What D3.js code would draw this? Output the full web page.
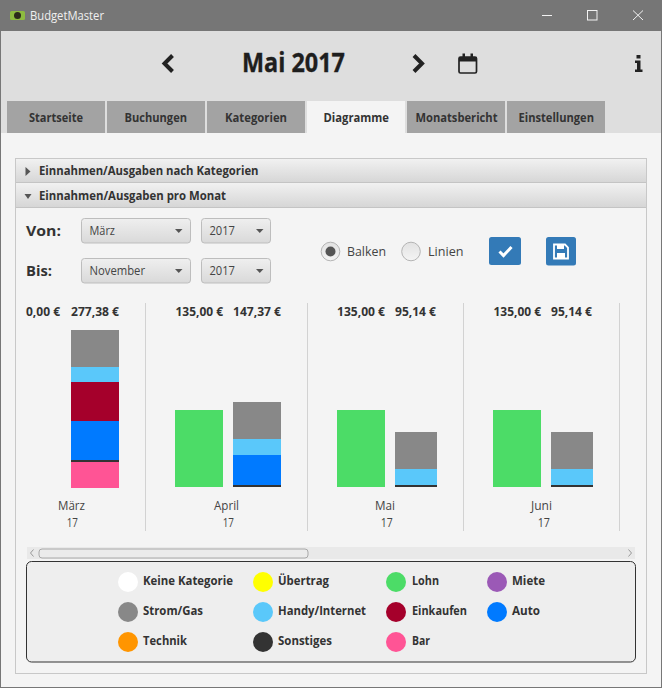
<!DOCTYPE html>
<html><head><meta charset="utf-8">
<script src="https://cdn.jsdelivr.net/npm/d3@7"></script>
<style>html,body{margin:0;padding:0;background:#f4f4f4}svg{display:block}text{font-family:"Open Sans",sans-serif}</style>
</head><body><svg id="c" width="662" height="688"></svg>
<script>
// ---- data ----
const months = ["März","April","Mai","Juni"];
const years = ["17","17","17","17"];
const lohn = [0,135,135,135];
const stromGas = [64.88,64.37,64.64,64.64];
const handyInternet = [26.5,27.5,27.5,27.5];
const einkaufen = [68,0,0,0];
const auto = [69,52.5,0,0];
const sonstiges = [3,3,3,3];
const bar = [46,0,0,0];
const legendNames = ["Keine Kategorie","Übertrag","Lohn","Miete","Strom/Gas","Handy/Internet","Einkaufen","Auto","Technik","Sonstiges","Bar"];
const legendColors = ["#ffffff","#ffff00","#4cdc67","#9b59b6","#888888","#5ac8fa","#a5002b","#007aff","#ff9500","#333333","#ff5495"];
const tabNames = ["Startseite","Buchungen","Kategorien","Diagramme","Monatsbericht","Einstellungen"];

// ---- layout ----
const svg = d3.select("#c");
const defs = svg.append("defs");
function grad(id, stops){
  const g = defs.append("linearGradient").attr("id",id).attr("x1",0).attr("y1",0).attr("x2",0).attr("y2",1);
  stops.forEach(([o,c])=>g.append("stop").attr("offset",o).attr("stop-color",c));
}
grad("hdr",[[0,"#f1f1f1"],[1,"#d6d6d6"]]);
grad("cmb",[[0,"#efefef"],[1,"#d9d9d9"]]);
grad("rad",[[0,"#e2e2e2"],[1,"#f4f4f4"]]);
function R(x,y,w,h,fill,o={}){
  const r = svg.append("rect").attr("x",x).attr("y",y).attr("width",w).attr("height",h).attr("fill",fill);
  if(o.stroke) r.attr("stroke",o.stroke).attr("stroke-width",o.sw||1);
  if(o.rx) r.attr("rx",o.rx);
  if(o.crisp) r.attr("shape-rendering","crispEdges");
  return r;
}
function T(s,x0,x1,base,size,weight,fill){
  const t = svg.append("text").attr("x",x0).attr("y",base).attr("font-size",size).attr("font-weight",weight).attr("fill",fill).text(s);
  if(x1!=null) t.attr("textLength",x1-x0).attr("lengthAdjust","spacingAndGlyphs");
  return t;
}
function P(d,fill,stroke,sw){
  return svg.append("path").attr("d",d).attr("fill",fill||"none").attr("stroke",stroke||"none").attr("stroke-width",sw||1);
}
const dark="#333333";

// window
R(0,0,662,688,"#f4f4f4");
R(0,0,662,31,"#767676");
R(1,31,660,70,"#dedede");
R(1,101,660,32,"#dedede");
// title bar
R(10,11,15,9,"#8dbb3f",{rx:1.5});
svg.append("ellipse").attr("cx",17.5).attr("cy",15.5).attr("rx",3.5).attr("ry",3.5).attr("fill","#2b2b1a");
T("BudgetMaster",30,104,20,12.5,400,"#f0f0f0");
P("M542 15.5H552",null,"#f2f2f2",1);
R(587.5,10.5,9.5,9.5,"none",{stroke:"#f2f2f2"});
P("M633 10.5L643 20M643 10.5L633 20",null,"#f2f2f2",1);
// header
T("Mai 2017",242,345,72,26,700,"#1e1e1e").attr("stroke","#1e1e1e").attr("stroke-width",0.35);
P("M172.5 55.5L164.5 63.5L172.5 71.5",null,"#222",4);
P("M414 55.5L422 63.5L414 71.5",null,"#222",4);
R(459,57,17.5,16,"none",{stroke:"#222",sw:1.7,rx:1.5});
R(459,57,17.5,4.5,"#222");
R(462.5,53.5,2.5,5,"#222"); R(470.5,53.5,2.5,5,"#222");
R(636.5,55,4,3.5,"#222"); P("M635 60.5H640.5V69.5H642.5V72H635V69.5H637V63H635Z","#222");
// tabs
const tabX=[7,107,207,307,407,507], tabTxt=[[29,83],[124.5,187],[225,287],[323.5,389],[415.5,497.5],[518.5,594]];
tabNames.forEach((n,i)=>{
  R(tabX[i],101,i==3?97.5:98,32,i==3?"#f4f4f4":"#a3a3a3",{crisp:true});
  T(n,tabTxt[i][0],tabTxt[i][1],122,13,700,dark);
});
// window border
R(0,31,1,657,"#777"); R(661,31,1,657,"#777"); R(0,687,662,1,"#777");
// accordion
R(15.5,158.5,631,515,"#f4f4f4",{stroke:"#c8c8c8"});
R(16,159,630,23.5,"url(#hdr)",{crisp:true});
R(16,183,630,24,"url(#hdr)",{crisp:true});
svg.append("path").attr("d","M16 182.5H646M16 207.5H646").attr("stroke","#c4c4c4").attr("fill","none");
P("M25.5 167L30.5 171.5L25.5 176Z","#555");
P("M24.5 194L31.5 194L28 199Z","#555");
T("Einnahmen/Ausgaben nach Kategorien",39,258.5,175,12.5,700,dark);
T("Einnahmen/Ausgaben pro Monat",39,226,200,12.5,700,dark);
// controls
T("Von:",26,61,236,15,700,dark);
T("Bis:",26,52,276,15,700,dark);
function combo(x,y,w,s,tx1,ax){
  R(x+.5,y+.5,w-1,24.5,"url(#cmb)",{stroke:"#bdbdbd",rx:3});
  T(s,x+8.5,tx1,y+17,12,400,"#444");
  P(`M${ax} ${y+11}H${ax+7.5}L${ax+3.75} ${y+15}Z`,"#555");
}
combo(81,218,110,"März",115,175);
combo(201,218,70,"2017",235,256);
combo(81,258,110,"November",145,175);
combo(201,258,70,"2017",235,256);
[[330.5,true],[411,false]].forEach(([cx,on])=>{
  svg.append("circle").attr("cx",cx).attr("cy",251.5).attr("r",9.3).attr("fill","url(#rad)").attr("stroke","#b4b4b4");
  if(on) svg.append("circle").attr("cx",cx).attr("cy",251.5).attr("r",5).attr("fill","#555");
});
T("Balken",347,386,256,13,400,"#444");
T("Linien",428,463.5,256,13,400,"#444");
R(489,237,32,28,"#337ab7",{rx:2.5});
P("M499.5 251.5L503.5 255.5L511.5 247",null,"#fff",3);
R(546,237,30,28.5,"#337ab7",{rx:2.5});
P("M554 244.5H565L568 247.5V258.5H554Z",null,"#fff",1.8);
R(557,244.5,7,4.5,"#fff"); R(557,253,8,5.5,"#fff");

// ---- chart ----
const incomeX = d3.scaleOrdinal(months,[26,175,337,493]);
const expenseX = d3.scaleOrdinal(months,[71,233,395,551]);
const expenseW = d3.scaleOrdinal(months,[48,48,42,42]);
const baseline = d3.scaleOrdinal(months,[488.4,486.75,486.75,486.75]);
const heightScale = d3.scaleLinear().domain([0,100]).range([0,57.2]);
const yOf = (m,v)=>Math.round(baseline(m)-heightScale(v));
const rows = months.map((m,i)=>({month:m,year:years[i],Lohn:lohn[i],"Strom/Gas":stromGas[i],"Handy/Internet":handyInternet[i],Einkaufen:einkaufen[i],Auto:auto[i],Sonstiges:sonstiges[i],Bar:bar[i]}));
const color = d3.scaleOrdinal(legendNames,legendColors);
const expenseKeys = ["Bar","Sonstiges","Auto","Einkaufen","Handy/Internet","Strom/Gas"];
const stacked = d3.stack().keys(expenseKeys)(rows);
const eur = d3.format(".2f");
const label = v=>eur(v).replace(".",",")+" €";
const chart = svg.append("g").attr("shape-rendering","crispEdges");
stacked.forEach(layer=>{
  chart.selectAll(null).data(layer.filter(d=>d[1]>d[0])).join("rect")
    .attr("x",d=>expenseX(d.data.month))
    .attr("width",d=>expenseW(d.data.month))
    .attr("y",d=>yOf(d.data.month,d[1]))
    .attr("height",d=>yOf(d.data.month,d[0])-yOf(d.data.month,d[1]))
    .attr("fill",color(layer.key));
});
chart.selectAll(null).data(rows.filter(d=>d.Lohn>0)).join("rect")
  .attr("x",d=>incomeX(d.month)).attr("width",48)
  .attr("y",d=>yOf(d.month,d.Lohn))
  .attr("height",d=>yOf(d.month,0)-yOf(d.month,d.Lohn))
  .attr("fill",color("Lohn"));
// month labels & totals
const incTxt=[[26,60],[175.5,223],[337,385],[493.5,541]], expTxt=[[71,119],[233,281],[395,436],[551,592]];
const monTxt=[[58,85],[214,239],[375,395],[531,552]], yrTxt=[[66.7,78],[222.7,234],[380.7,392.7],[537.7,550]];
rows.forEach((r,i)=>{
  const total = expenseKeys.reduce((s,k)=>s+r[k],0);
  T(label(r.Lohn),incTxt[i][0],incTxt[i][1],316,12,700,dark);
  T(label(total),expTxt[i][0],expTxt[i][1],316,12,700,dark);
  T(r.month,monTxt[i][0],monTxt[i][1],510,12,400,"#444");
  T(r.year,yrTxt[i][0],yrTxt[i][1],527,12,400,"#444");
});
[145.5,307.5,463.5,619.5].forEach(x=>P(`M${x} 303V531`,null,"#d2d2d2",1));
// scrollbar
R(27,547,608,12,"#e9e9e9",{crisp:true});
R(39,549,269,9,"#ebebeb",{stroke:"#a8a8a8",rx:3});
P("M33.5 549.5L30.5 553L33.5 556.5M628.5 549.5L631.5 553L628.5 556.5",null,"#999",1);
// legend
R(26.5,561.5,609,100.5,"#eeeeee",{stroke:dark,rx:5});
const legCx=[128,263,396,497], legTx=[143,278,412,512], legY=[582,612,642];
const legEnd=[233,329,439,545,203,366,467,540,187,332,430];
const lg = svg.append("g");
legendNames.forEach((n,i)=>{
  const col=i%4,row=Math.floor(i/4);
  lg.append("circle").attr("cx",legCx[col]).attr("cy",legY[row]).attr("r",10).attr("fill",color(n));
  T(n,legTx[col],legEnd[i],legY[row]+3,12.5,700,dark);
});
</script></body></html>
